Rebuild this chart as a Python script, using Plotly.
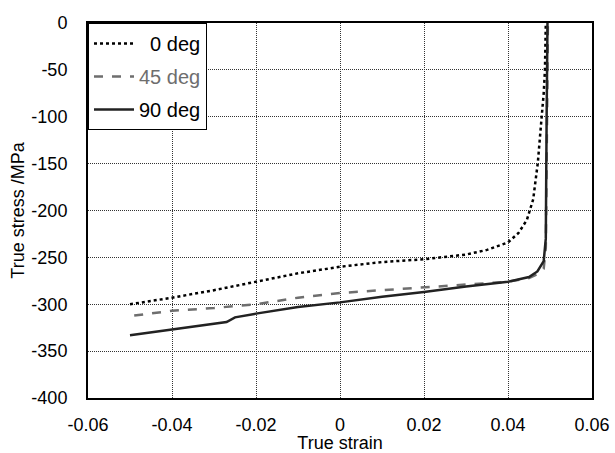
import plotly.graph_objects as go

# 0 deg
strain_0 = [-0.05, -0.04, -0.03, -0.02, -0.01, 0.0, 0.01, 0.02, 0.03, 0.035, 0.04,
            0.0425, 0.0445, 0.046, 0.0471, 0.048, 0.0485, 0.0488, 0.049]
stress_0 = [-300, -293, -285, -276, -267, -260, -255, -252, -247, -242, -234,
            -224, -210, -188, -149, -101, -75, -50, 0]
# 45 deg
strain_45 = [-0.049, -0.04, -0.03, -0.02, -0.01, 0.0, 0.01, 0.02, 0.03, 0.04,
             0.045, 0.047, 0.0485, 0.049, 0.0492, 0.0494, 0.0495]
stress_45 = [-312, -307, -304, -300, -293, -288, -285, -282, -279, -276,
             -272, -268, -262, -240, -150, -50, 0]
# 90 deg
strain_90 = [-0.05, -0.04, -0.03, -0.027, -0.025, -0.02, -0.01, 0.0, 0.01, 0.02,
             0.03, 0.04, 0.045, 0.047, 0.0485, 0.049, 0.0492, 0.0494]
stress_90 = [-333, -327, -321, -319, -314, -310, -303, -298, -292, -287,
             -281, -276, -271, -265, -254, -230, -100, 0]

x_ticks = [-0.06, -0.04, -0.02, 0, 0.02, 0.04, 0.06]
x_tick_labels = ["-0.06", "-0.04", "-0.02", "0", "0.02", "0.04", "0.06"]
y_ticks = [0, -50, -100, -150, -200, -250, -300, -350, -400]
y_tick_labels = ["0", "-50", "-100", "-150", "-200", "-250", "-300", "-350", "-400"]

FONT = "Liberation Sans, Arial, sans-serif"

fig = go.Figure()
fig.add_trace(go.Scatter(x=strain_0, y=stress_0, mode="lines", name="\u20070 deg", legendgroup="a",
                         line=dict(color="black", width=2.5, dash="dot")))
fig.add_trace(go.Scatter(x=strain_45, y=stress_45, mode="lines", legendgroup="b",
                         name="<span style='color:#6e6e6e'>45 deg</span>",
                         line=dict(color="#6e6e6e", width=2.5, dash="dash")))
fig.add_trace(go.Scatter(x=strain_90, y=stress_90, mode="lines", name="90 deg", legendgroup="c",
                         line=dict(color="#222222", width=2.5)))

axis_common = dict(showline=True, linecolor="black", linewidth=2, mirror=True,
                   showgrid=True, gridcolor="#333333", gridwidth=1, griddash="1px,1px",
                   zeroline=False, ticks="", automargin=False,
                   tickfont=dict(size=18, color="black", family=FONT))

fig.update_xaxes(range=[-0.06, 0.06], tickvals=x_ticks, ticktext=x_tick_labels,
                 ticklabelstandoff=9,
                 title=dict(text="True strain", font=dict(size=18, color="black", family=FONT), standoff=3),
                 **axis_common)
fig.update_yaxes(range=[-400, 0], tickvals=y_ticks, ticktext=y_tick_labels, ticklabelstandoff=15,
                 title=dict(text="True stress /MPa", font=dict(size=18, color="black", family=FONT), standoff=2),
                 **axis_common)

fig.update_layout(
    width=615, height=453,
    margin=dict(l=88, r=23, t=23, b=55),
    paper_bgcolor="white", plot_bgcolor="white",
    font=dict(family=FONT, size=18, color="black"),
    showlegend=True,
    legend=dict(x=0, y=1, xanchor="left", yanchor="top",
                bgcolor="white", bordercolor="black", borderwidth=1,
                font=dict(size=20, color="black", family=FONT),
                itemwidth=40, tracegroupgap=4),
)

fig.write_html("out.html", config={"displayModeBar": False},
               post_script="document.body.style.margin='0';document.body.style.overflow='hidden';")
